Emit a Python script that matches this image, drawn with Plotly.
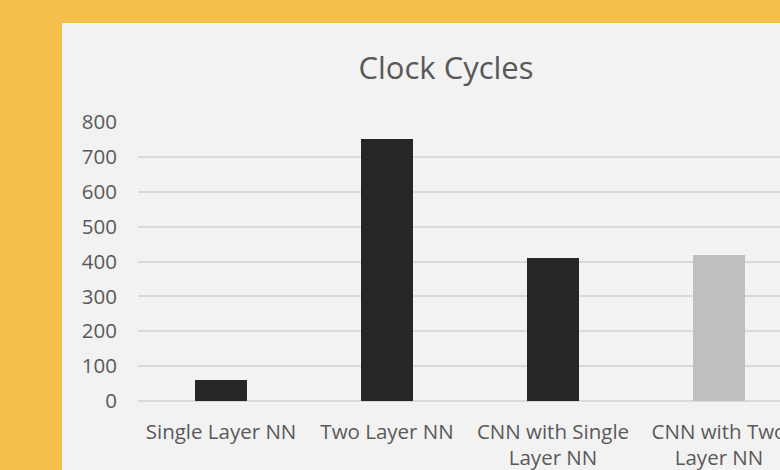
import plotly.graph_objects as go

# Clock cycles per network configuration
categories = ["Single Layer NN", "Two Layer NN", "CNN with Single Layer NN", "CNN with Two Layer NN"]
tick_labels = ["Single Layer NN", "Two Layer NN", "CNN with Single<br>Layer NN", "CNN with Two<br>Layer NN"]
cycles = [60, 750, 410, 420]
bar_colors = ["#262626", "#262626", "#262626", "#BFBFBF"]
y_ticks = [0, 100, 200, 300, 400, 500, 600, 700, 800]

W, H = 780, 470
left, right, top, bottom = 138, 0, 122, 69
plot_w = W - left - right
plot_h = H - top - bottom

fig = go.Figure(
    go.Bar(
        x=categories,
        y=cycles,
        marker=dict(color=bar_colors, line=dict(width=0)),
        width=0.315,
    )
)

# light chart panel on the orange page
fig.add_shape(
    type="rect", xref="paper", yref="paper", layer="below",
    x0=(62 - left) / plot_w, x1=1.3,
    y0=-0.5, y1=(H - bottom - 23) / plot_h,
    fillcolor="#F2F2F2", line=dict(width=0),
)

fig.update_layout(
    width=W, height=H,
    margin=dict(l=left, r=right, t=top, b=bottom, autoexpand=False),
    paper_bgcolor="#F6BE4A",
    plot_bgcolor="#F2F2F2",
    font=dict(family="Open Sans", color="#595959", size=20),
    showlegend=False,
    bargap=0,
    title=dict(
        text="Clock Cycles",
        font=dict(size=31, color="#595959", family="Open Sans"),
        x=(446 - left) / plot_w, xref="paper", xanchor="center",
        y=1 - 68 / H, yref="container", yanchor="middle",
    ),
    xaxis=dict(
        range=[-0.5, -0.5 + plot_w / 166],
        tickmode="array", tickvals=categories, ticktext=tick_labels,
        showgrid=False, showline=False, ticks="", ticklabelstandoff=16,
        tickfont=dict(size=20.5, color="#595959"),
        automargin=False,
    ),
    yaxis=dict(
        range=[0, 800],
        tickvals=y_ticks,
        showgrid=True, gridcolor="#D9D9D9", gridwidth=1.5,
        zeroline=True, zerolinecolor="#D9D9D9", zerolinewidth=1.5,
        showline=False, ticks="", ticklabelstandoff=20,
        tickfont=dict(size=20.5, color="#595959"),
        automargin=False,
    ),
)

fig.write_html("out.html")
